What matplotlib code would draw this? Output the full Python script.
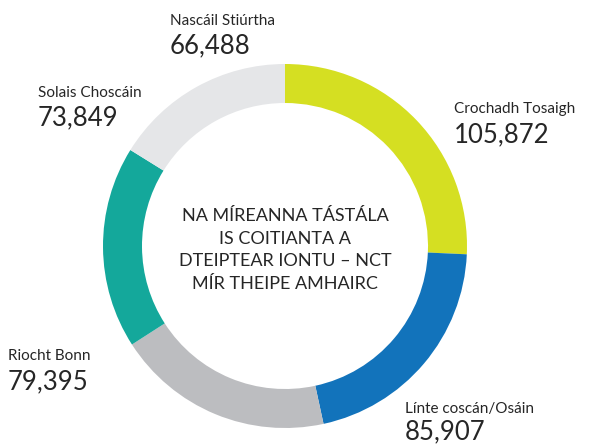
import matplotlib
matplotlib.use("Agg")
from matplotlib import pyplot as plt

plt.rcParams["font.family"] = ["Lato", "DejaVu Sans"]

# failed test items, clockwise from the top
labels = ["Crochadh Tosaigh", "Línte coscán/Osáin", "Riocht Bonn", "Solais Choscáin", "Nascáil Stiúrtha"]
counts = [105872, 85907, 79395, 73849, 66488]
colors = ["#d5df22", "#1273bb", "#bcbdc0", "#14a89b", "#e5e6e8"]

# label anchors in pixels (left edge, name baseline, number baseline)
label_pos = [
    (454, 113, 142),
    (405, 413, 439),
    (8, 360, 389),
    (38, 97, 125),
    (170, 25, 53),
]

centre_title = "NA MÍREANNA TÁSTÁLA\nIS COITIANTA A\nDTEIPTEAR IONTU – NCT\nMÍR THEIPE AMHAIRC"

W, H = 590, 445
fig = plt.figure(figsize=(W / 100, H / 100), dpi=100)
fig.patch.set_facecolor("white")

cx, cy, r = 285, 246, 182
ax = fig.add_axes([(cx - r) / W, (H - cy - r) / H, 2 * r / W, 2 * r / H])
ax.pie(
    counts,
    colors=colors,
    startangle=90,
    counterclock=False,
    radius=1.0,
    wedgeprops=dict(width=39 / r, linewidth=0),
)
ax.set_xlim(-1, 1)
ax.set_ylim(-1, 1)
ax.set_aspect("equal")
ax.axis("off")

text_col = "#262626"
for name, n, (x, y_name, y_num) in zip(labels, counts, label_pos):
    fig.text(x / W, 1 - y_name / H, name, fontsize=11, color=text_col, ha="left", va="baseline")
    fig.text(x / W, 1 - y_num / H, f"{n:,}", fontsize=18.5, color=text_col, ha="left", va="baseline")

fig.text(cx / W, 1 - 250 / H, centre_title, fontsize=13, color=text_col,
         ha="center", va="center", linespacing=1.5, multialignment="center")

fig.savefig("out.png", dpi=100, facecolor="white")
